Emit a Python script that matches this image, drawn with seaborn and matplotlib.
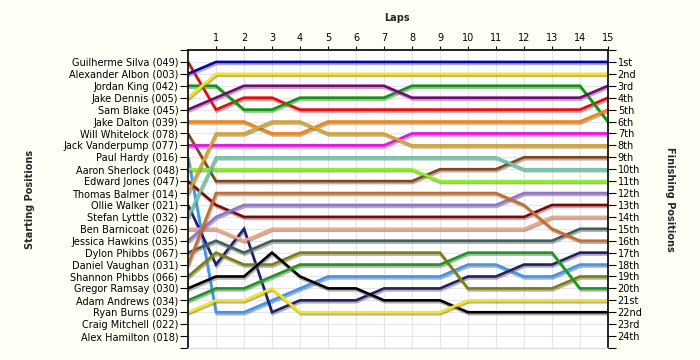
import matplotlib
matplotlib.use("Agg")
import matplotlib.pyplot as plt
import matplotlib.patheffects as pe
import numpy as np
import pandas as pd
import seaborn as sns

# ---------------- data ----------------
drivers = [
    "Guilherme Silva (049)", "Alexander Albon (003)", "Jordan King (042)",
    "Jake Dennis (005)", "Sam Blake (045)", "Jake Dalton (039)",
    "Will Whitelock (078)", "Jack Vanderpump (077)", "Paul Hardy (016)",
    "Aaron Sherlock (048)", "Edward Jones (047)", "Thomas Balmer (014)",
    "Ollie Walker (021)", "Stefan Lyttle (032)", "Ben Barnicoat (026)",
    "Jessica Hawkins (035)", "Dylon Phibbs (067)", "Daniel Vaughan (031)",
    "Shannon Phibbs (066)", "Gregor Ramsay (030)", "Adam Andrews (034)",
    "Ryan Burns (029)", "Craig Mitchell (022)", "Alex Hamilton (018)",
]

finish_labels = ["1st", "2nd", "3rd", "4th", "5th", "6th", "7th", "8th", "9th",
                 "10th", "11th", "12th", "13th", "14th", "15th", "16th", "17th",
                 "18th", "19th", "20th", "21st", "22nd", "23rd", "24th"]

laps = list(range(0, 16))  # 0 = grid position

# position at grid (lap 0) and after each lap 1..15
silva      = [1, 5, 4, 4, 5, 5, 5, 5, 5, 5, 5, 5, 5, 5, 5, 4]
albon      = [2, 1, 1, 1, 1, 1, 1, 1, 1, 1, 1, 1, 1, 1, 1, 1]
king       = [3, 3, 5, 5, 4, 4, 4, 4, 3, 3, 3, 3, 3, 3, 3, 6]
dennis     = [4, 2, 2, 2, 2, 2, 2, 2, 2, 2, 2, 2, 2, 2, 2, 2]
blake      = [5, 4, 3, 3, 3, 3, 3, 3, 4, 4, 4, 4, 4, 4, 4, 3]
dalton     = [6, 6, 6, 7, 7, 6, 6, 6, 6, 6, 6, 6, 6, 6, 6, 5]
whitelock  = [7, 11, 11, 11, 11, 11, 11, 11, 11, 10, 10, 10, 9, 9, 9, 9]
vanderpump = [8, 8, 8, 8, 8, 8, 8, 8, 7, 7, 7, 7, 7, 7, 7, 7]
hardy      = [9, 22, 22, 21, 20, 19, 19, 19, 19, 19, 18, 18, 19, 19, 18, 18]
sherlock   = [10, 10, 10, 10, 10, 10, 10, 10, 10, 11, 11, 11, 11, 11, 11, 11]
jones      = [11, 13, 14, 14, 14, 14, 14, 14, 14, 14, 14, 14, 14, 13, 13, 13]
balmer     = [12, 7, 7, 6, 6, 7, 7, 7, 8, 8, 8, 8, 8, 8, 8, 8]
walker     = [13, 18, 15, 22, 21, 21, 21, 20, 20, 20, 19, 19, 18, 18, 17, 17]
lyttle     = [14, 9, 9, 9, 9, 9, 9, 9, 9, 9, 9, 9, 10, 10, 10, 10]
barnicoat  = [15, 15, 16, 15, 15, 15, 15, 15, 15, 15, 15, 15, 15, 14, 14, 14]
hawkins    = [16, 14, 13, 13, 13, 13, 13, 13, 13, 13, 13, 13, 12, 12, 12, 12]
d_phibbs   = [17, 16, 17, 16, 16, 16, 16, 16, 16, 16, 16, 16, 16, 16, 15, 15]
vaughan    = [18, 12, 12, 12, 12, 12, 12, 12, 12, 12, 12, 12, 13, 15, 16, 16]
s_phibbs   = [19, 17, 18, 18, 17, 17, 17, 17, 17, 17, 20, 20, 20, 20, 19, 19]
ramsay     = [20, 19, 19, 17, 19, 20, 20, 21, 21, 21, 22, 22, 22, 22, 22, 22]
andrews    = [21, 20, 20, 19, 18, 18, 18, 18, 18, 18, 17, 17, 17, 17, 20, 20]
burns      = [22, 21, 21, 20, 22, 22, 22, 22, 22, 22, 21, 21, 21, 21, 21, 21]

series = [silva, albon, king, dennis, blake, dalton, whitelock, vanderpump,
          hardy, sherlock, jones, balmer, walker, lyttle, barnicoat, hawkins,
          d_phibbs, vaughan, s_phibbs, ramsay, andrews, burns]

colors = ["#FF0000", "#0000D0", "#00A000", "#FFE600", "#800080", "#FF8000",
          "#8B4513", "#FF00FF", "#3399FF", "#80FF00", "#8B0000", "#DAA520",
          "#202070", "#66CDAA", "#FFA07A", "#9370DB", "#3F5F5F", "#D2691E",
          "#808000", "#000000", "#11A011", "#FFE800"]

# ---------------- build table ----------------
rows = []
for name, pos in zip(drivers, series):
    for lap, p in zip(laps, pos):
        rows.append({"driver": name, "lap": lap, "pos": p})
df = pd.DataFrame(rows)
palette = {d: c for d, c in zip(drivers, colors)}

# ---------------- figure ----------------
sns.set_theme(style="white")
plt.rcParams["font.family"] = ["DejaVu Sans"]

bg = "#FFFFF5"
fig = plt.figure(figsize=(7, 3.6), dpi=100, facecolor=bg)
ax = fig.add_axes([188 / 700, 12 / 360, 420 / 700, 298 / 360])
ax.set_facecolor("white")

sns.lineplot(data=df, x="lap", y="pos", hue="driver", palette=palette,
             hue_order=drivers[:len(series)], estimator=None, legend=False,
             linewidth=1.9, ax=ax)

shadow = [pe.SimpleLineShadow(offset=(0.6, -1.4), shadow_color="#707070", alpha=0.55),
          pe.Normal()]
for ln in ax.lines:
    ln.set_path_effects(shadow)
    ln.set_solid_joinstyle("miter")

ax.set_xlim(0, 15)
ax.set_ylim(25, 0)
ax.set_xlabel("")
ax.set_ylabel("")

# top lap ticks
ax.xaxis.tick_top()
ax.set_xticks(range(1, 16))
ax.set_xticklabels([str(i) for i in range(1, 16)])
ax.tick_params(axis="x", top=True, bottom=False, length=3, width=0.8,
               labelsize=7, pad=2, colors="black", direction="out")

# left starting positions
ax.set_yticks(range(0, 26))
ax.set_yticklabels([""] + drivers + [""])
ax.tick_params(axis="y", left=True, length=6, width=0.8, labelsize=7,
               pad=1, colors="black", direction="out")

ax.grid(True, color="#E6E6E6", linewidth=0.8)
ax.set_axisbelow(True)

for s in ["top", "left", "right"]:
    ax.spines[s].set_color("black")
    ax.spines[s].set_linewidth(1.2)
ax.spines["bottom"].set_color("#DDDDDD")
ax.spines["bottom"].set_linewidth(1.0)

# right finishing positions
ax2 = ax.twinx()
ax2.set_ylim(25, 0)
ax2.set_yticks(range(0, 26))
ax2.set_yticklabels([""] + finish_labels + [""])
ax2.tick_params(axis="y", right=True, length=6, width=0.8, labelsize=7,
                pad=1, colors="black", direction="out")
for s in ax2.spines.values():
    s.set_visible(False)
ax2.grid(False)

fig.text(397 / 700, 1 - 18 / 360, "Laps", ha="center", va="center",
         fontsize=7, fontweight="bold")
fig.text(30 / 700, 1 - 199 / 360, "Starting Positions", ha="center", va="center",
         rotation=90, fontsize=7, fontweight="bold")
fig.text(670 / 700, 1 - 199 / 360, "Finishing Positions", ha="center", va="center",
         rotation=-90, fontsize=7, fontweight="bold")

fig.savefig("out.png", dpi=100, facecolor=bg)
